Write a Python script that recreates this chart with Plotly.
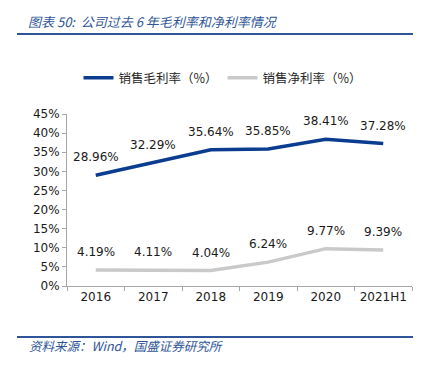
import plotly.graph_objects as go

categories = ["2016", "2017", "2018", "2019", "2020", "2021H1"]
gross_margin = [28.96, 32.29, 35.64, 35.85, 38.41, 37.28]
net_margin = [4.19, 4.11, 4.04, 6.24, 9.77, 9.39]
series_names = ["销售毛利率（%）", "销售净利率（%）"]
title_text = "图表 50:  公司过去 6 年毛利率和净利率情况"
source_text = "资料来源：Wind，国盛证券研究所"

FONT = "DejaVu Sans, Noto Sans CJK SC, sans-serif"
CJK = "Noto Sans CJK SC, sans-serif"
BLUE = "#0A3C8F"
GREY = "#C9C9C9"
LINE_BLUE = "#2E5597"

# page has an 8px body margin: the figure is drawn from (8, 8)
W, H = 419, 363

fig = go.Figure()
for name, vals, col in [(series_names[0], gross_margin, BLUE),
                        (series_names[1], net_margin, GREY)]:
    fig.add_trace(go.Scatter(x=categories, y=vals, name=name, mode="lines",
                             line=dict(color=col, width=3.5)))
    for i, v in enumerate(vals):
        # category index i on the category axis
        fig.add_annotation(x=i, y=v, xref="x", yref="y", text=f"{v:.2f}%",
                           showarrow=False, yshift=18, yanchor="middle",
                           xanchor="center",
                           font=dict(family=FONT, size=12, color="#1a1a1a"))

fig.update_layout(
    width=W, height=H,
    margin=dict(l=59, r=15, t=106, b=85),
    paper_bgcolor="white", plot_bgcolor="white",
    font=dict(family=FONT, size=12, color="#1a1a1a"),
    showlegend=True,
    legend=dict(orientation="h", xref="container", yref="container",
                x=215 / W, xanchor="center", y=1 - 70 / H, yanchor="middle",
                font=dict(family=CJK, size=12.5, color="#262626"),
                itemwidth=30, tracegroupgap=0),
    xaxis=dict(type="category", showline=True, linecolor="#A6A6A6", linewidth=1,
               ticks="outside", tickson="boundaries", ticklen=4, tickcolor="#A6A6A6",
               showgrid=False, tickfont=dict(family=FONT, size=12, color="#1a1a1a"),
               range=[-0.5, 5.5]),
    yaxis=dict(range=[0, 45], dtick=5, ticksuffix="%", showline=True,
               linecolor="#A6A6A6", linewidth=1, ticks="outside", ticklen=4,
               tickcolor="#A6A6A6", showgrid=False, zeroline=False,
               tickfont=dict(family=FONT, size=12, color="#1a1a1a")),
)

PW, PH = 345, 172
fig.add_shape(type="line", xref="paper", yref="paper", x0=-50 / PW, x1=1 + 1 / PW,
              y0=1 + 80 / PH, y1=1 + 80 / PH, line=dict(color=LINE_BLUE, width=2))
fig.add_shape(type="line", xref="paper", yref="paper", x0=-50 / PW, x1=1 + 1 / PW,
              y0=-51 / PH, y1=-51 / PH, line=dict(color=LINE_BLUE, width=2))
fig.add_annotation(text=title_text, xref="paper", yref="paper",
                   x=-41 / PW, y=1 + 92 / PH, xanchor="left", yanchor="middle",
                   showarrow=False,
                   font=dict(family=CJK, size=13, color=LINE_BLUE, style="italic"))
fig.add_annotation(text=source_text, xref="paper", yref="paper",
                   x=-40 / PW, y=-59 / PH, xanchor="left", yanchor="middle",
                   showarrow=False,
                   font=dict(family=CJK, size=12.5, color=LINE_BLUE, style="italic"))

fig.write_html("out.html")
